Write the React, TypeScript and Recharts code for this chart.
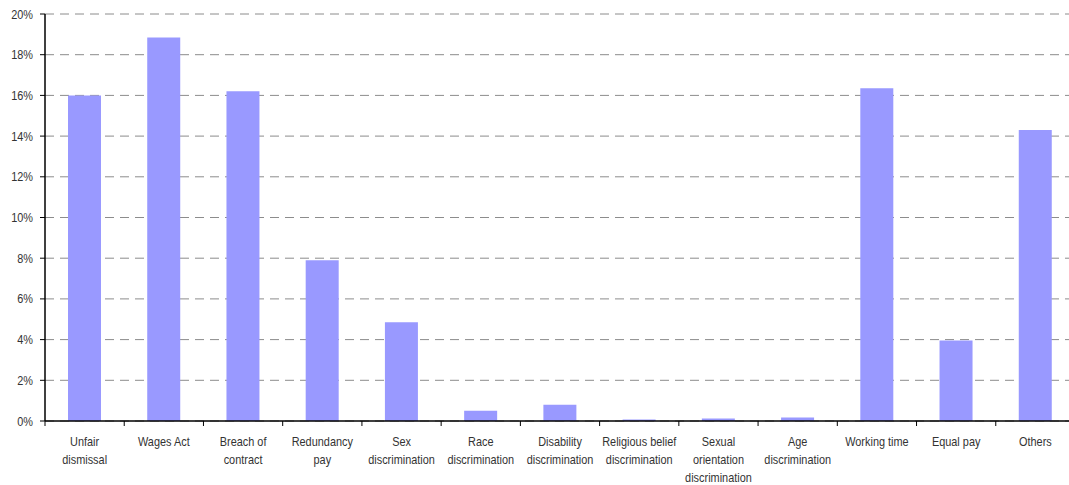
import { BarChart, Bar, XAxis, YAxis, CartesianGrid } from 'recharts'

const categories = [
    'Unfair\ndismissal',
    'Wages Act',
    'Breach of\ncontract',
    'Redundancy\npay',
    'Sex\ndiscrimination',
    'Race\ndiscrimination',
    'Disability\ndiscrimination',
    'Religious belief\ndiscrimination',
    'Sexual\norientation\ndiscrimination',
    'Age\ndiscrimination',
    'Working time',
    'Equal pay',
    'Others',
]

const shares = [16.0, 18.85, 16.2, 7.9, 4.85, 0.5, 0.8, 0.07, 0.12, 0.17, 16.35, 3.95, 14.3]

const yTicks = [0, 2, 4, 6, 8, 10, 12, 14, 16, 18, 20]

const data = categories.map((name, i) => ({ name, value: shares[i] }))

const FONT = '"Liberation Sans", Arial, sans-serif'
const BAND = 1030 / 13
const SQUEEZE = 0.84

function CategoryTick(props: any) {
    const { x, y, payload } = props
    const lines = String(payload.value).split('\n')
    const left = x - BAND / 2
    return (
        <g>
            <line x1={left} y1={y - 8} x2={left} y2={y - 3} stroke="#000" strokeWidth={1} />
            <g transform={`translate(${x},0) scale(${SQUEEZE},1)`}>
                <text x={0} y={y + 17} textAnchor="middle" fill="#333" fontSize={13} fontFamily={FONT}>
                    {lines.map((l: string, i: number) => (
                        <tspan key={i} x={0} dy={i === 0 ? 0 : 18}>{l}</tspan>
                    ))}
                </text>
            </g>
        </g>
    )
}

function PercentTick(props: any) {
    const { x, y, payload } = props
    return (
        <g transform={`translate(${x},${y}) scale(${SQUEEZE},1)`}>
            <text x={0} y={0} dy={4.5} textAnchor="end" fill="#333" fontSize={13} fontFamily={FONT}>
                {`${payload.value}%`}
            </text>
        </g>
    )
}

export default function App() {
    return (
        <div style={{ position: 'absolute', left: 0, top: 0, width: 1069, height: 485, overflow: 'hidden', background: '#fff' }}>
            <BarChart
                width={1075}
                height={485}
                data={data}
                margin={{ top: 14, right: 0, left: 0, bottom: 0 }}
                barSize={33}
            >
                <CartesianGrid vertical={false} stroke="#8c8c8c" strokeDasharray="9 6" />
                <XAxis
                    dataKey="name"
                    interval={0}
                    height={64}
                    axisLine={{ stroke: '#000', strokeWidth: 1.5 }}
                    tickLine={false}
                    tick={<CategoryTick />}
                />
                <YAxis
                    width={45}
                    domain={[0, 20]}
                    ticks={yTicks}
                    axisLine={{ stroke: '#000', strokeWidth: 1.5 }}
                    tickLine={{ stroke: '#000' }}
                    tickSize={5}
                    tickMargin={7}
                    tick={<PercentTick />}
                />
                <Bar dataKey="value" fill="#9999ff" isAnimationActive={false} />
            </BarChart>
        </div>
    )
}
